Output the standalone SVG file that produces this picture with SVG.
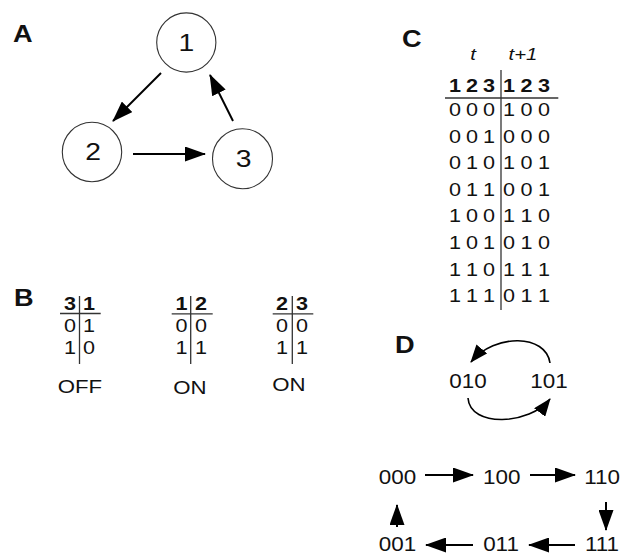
<svg xmlns="http://www.w3.org/2000/svg" width="620" height="554" viewBox="0 0 620 554">
<defs>
<style>
text{font-family:"Liberation Sans",Arial,sans-serif;fill:#111;}
.lbl{font-size:23px;font-weight:bold;}
.cd{font-size:24px;text-anchor:middle;}
.tb{font-size:18px;text-anchor:middle;}
.tbh{font-size:18px;font-weight:bold;text-anchor:middle;}
.it{font-size:17px;font-style:italic;text-anchor:middle;}
.st{font-size:19.5px;text-anchor:middle;}
.cap{font-size:18.5px;text-anchor:middle;}
.node{fill:#fff;stroke:#333;stroke-width:1.1;}
.rule{stroke:#333;stroke-width:1.3;fill:none;}
.arr{stroke:#000;stroke-width:2;fill:none;marker-end:url(#ah);}
.arrs{stroke:#000;stroke-width:1.6;fill:none;marker-end:url(#ahs);}
</style>
<marker id="ah" markerUnits="userSpaceOnUse" markerWidth="21" markerHeight="15" refX="20" refY="7.5" orient="auto">
<path d="M0,0 L21,7.5 L0,15 z" fill="#000"/>
</marker>
<marker id="ahs" markerUnits="userSpaceOnUse" markerWidth="18" markerHeight="14" refX="17" refY="7" orient="auto">
<path d="M0,0 L18,7 L0,14 z" fill="#000"/>
</marker>
</defs>
<rect width="620" height="554" fill="#fff"/>

<!-- Panel labels -->
<text class="lbl" transform="translate(13,42) scale(1.18,1)">A</text>
<text class="lbl" transform="translate(14,306) scale(1.18,1)">B</text>
<text class="lbl" transform="translate(402,47) scale(1.18,1)">C</text>
<text class="lbl" transform="translate(395,353) scale(1.18,1)">D</text>

<!-- Panel A -->
<g id="connectors-A">
<path class="arr" d="M161,73 L113,121"/>
<path class="arr" d="M133,154 L205,154"/>
<path class="arr" d="M233,121 L210,75"/>
</g>
<g id="node1">
<circle class="node" cx="186.3" cy="42.5" r="29.6"/>
<text class="cd" transform="translate(186.3,51.3) scale(1.18,1)">1</text>
</g>
<g id="node2">
<circle class="node" cx="92" cy="152" r="29.7"/>
<text class="cd" transform="translate(93,160) scale(1.18,1)">2</text>
</g>
<g id="node3">
<circle class="node" cx="242.5" cy="158.7" r="30"/>
<text class="cd" transform="translate(243.5,166.5) scale(1.18,1)">3</text>
</g>

<!-- Panel B -->
<g id="table-31">
<line class="rule" x1="79.5" y1="296" x2="79.5" y2="364"/>
<line class="rule" x1="60" y1="313.5" x2="100.7" y2="313.5"/>
<text class="tbh" transform="matrix(1.2 0 0 1 0 309.5)" x="58.33 74.17" y="0">31</text>
<text class="tb" transform="matrix(1.2 0 0 1 0 331.5)" x="58.33 74.17" y="0">01</text>
<text class="tb" transform="matrix(1.2 0 0 1 0 353.5)" x="58.33 74.17" y="0">10</text>
<text class="cap" transform="translate(80,393) scale(1.2,1)">OFF</text>
</g>
<g id="table-12">
<line class="rule" x1="190.7" y1="296" x2="190.7" y2="364"/>
<line class="rule" x1="171.7" y1="313.8" x2="212.7" y2="313.8"/>
<text class="tbh" transform="matrix(1.2 0 0 1 0 309.5)" x="151.25 167.5" y="0">12</text>
<text class="tb" transform="matrix(1.2 0 0 1 0 331.5)" x="151.25 167.5" y="0">00</text>
<text class="tb" transform="matrix(1.2 0 0 1 0 353.5)" x="151.25 167.5" y="0">11</text>
<text class="cap" transform="translate(190,394) scale(1.2,1)">ON</text>
</g>
<g id="table-23">
<line class="rule" x1="292.3" y1="296" x2="292.3" y2="364"/>
<line class="rule" x1="272.7" y1="313.8" x2="313.3" y2="313.8"/>
<text class="tbh" transform="matrix(1.2 0 0 1 0 309.5)" x="235 251.67" y="0">23</text>
<text class="tb" transform="matrix(1.2 0 0 1 0 331.5)" x="235 251.67" y="0">00</text>
<text class="tb" transform="matrix(1.2 0 0 1 0 353.5)" x="235 251.67" y="0">11</text>
<text class="cap" transform="translate(289,391) scale(1.2,1)">ON</text>
</g>

<!-- Panel C -->
<g id="truth-table">
<text class="it" transform="translate(473,60) scale(1.2,1)">t</text>
<text class="it" transform="translate(523,60) scale(1.2,1)">t+1</text>
<line class="rule" x1="501" y1="70" x2="501" y2="310"/>
<line class="rule" x1="445" y1="98" x2="558.3" y2="98"/>
<text class="tbh" transform="matrix(1.2 0 0 1 0 92)" x="379.17 393.33 407.5 424.17 438.75 453.33" y="0">123123</text>
<text class="tb" transform="matrix(1.2 0 0 1 0 116)" x="379.17 393.33 407.5 424.17 438.75 453.33" y="0">000100</text>
<text class="tb" transform="matrix(1.2 0 0 1 0 142.6)" x="379.17 393.33 407.5 424.17 438.75 453.33" y="0">001000</text>
<text class="tb" transform="matrix(1.2 0 0 1 0 169.2)" x="379.17 393.33 407.5 424.17 438.75 453.33" y="0">010101</text>
<text class="tb" transform="matrix(1.2 0 0 1 0 195.8)" x="379.17 393.33 407.5 424.17 438.75 453.33" y="0">011001</text>
<text class="tb" transform="matrix(1.2 0 0 1 0 222.4)" x="379.17 393.33 407.5 424.17 438.75 453.33" y="0">100110</text>
<text class="tb" transform="matrix(1.2 0 0 1 0 249)" x="379.17 393.33 407.5 424.17 438.75 453.33" y="0">101010</text>
<text class="tb" transform="matrix(1.2 0 0 1 0 275.6)" x="379.17 393.33 407.5 424.17 438.75 453.33" y="0">110111</text>
<text class="tb" transform="matrix(1.2 0 0 1 0 302.2)" x="379.17 393.33 407.5 424.17 438.75 453.33" y="0">111011</text>
</g>

<!-- Panel D -->
<g id="connectors-D">
<path class="arrs" d="M550,363 C546,334 495,333 471,362"/>
<path class="arrs" d="M468,398 C470,428 530,425 550,399"/>
<path class="arr" d="M425,475 L473,475"/>
<path class="arr" d="M530,475 L575,475"/>
<path class="arr" d="M606,502 L606,530"/>
<path class="arr" d="M575,545 L529,545"/>
<path class="arr" d="M473,545 L426,545"/>
<path class="arr" d="M397,527 L397,505"/>
</g>
<g id="s010"><text class="st" transform="translate(468,388) scale(1.15,1)">010</text></g>
<g id="s101"><text class="st" transform="translate(549,388) scale(1.15,1)">101</text></g>
<g id="s000"><text class="st" transform="translate(397.5,483.5) scale(1.15,1)">000</text></g>
<g id="s100"><text class="st" transform="translate(501.7,483.5) scale(1.15,1)">100</text></g>
<g id="s110"><text class="st" transform="translate(602,483.5) scale(1.15,1)">110</text></g>
<g id="s001"><text class="st" transform="translate(397.5,551) scale(1.15,1)">001</text></g>
<g id="s011"><text class="st" transform="translate(501,551) scale(1.15,1)">011</text></g>
<g id="s111"><text class="st" transform="translate(602,551) scale(1.15,1)">111</text></g>
</svg>
